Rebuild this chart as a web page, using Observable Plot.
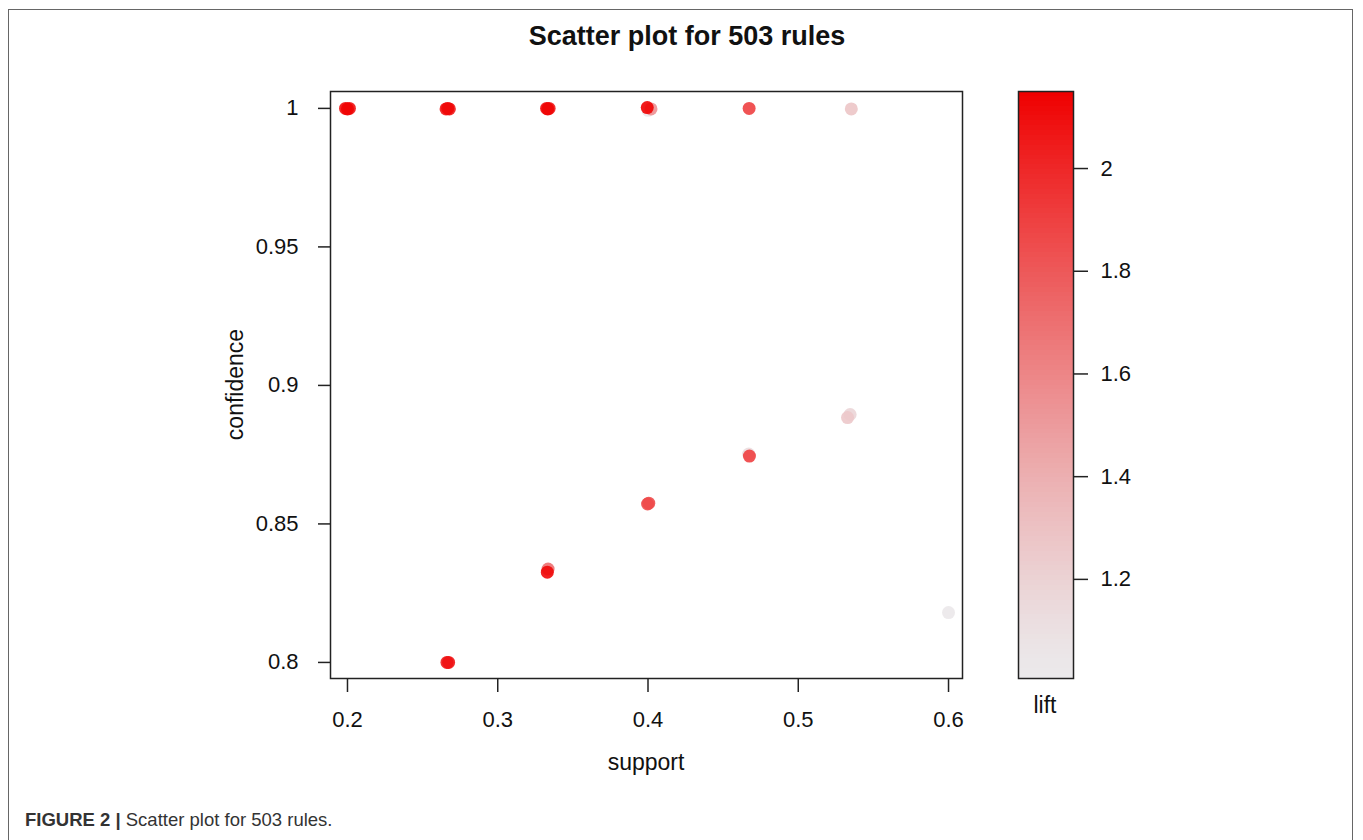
<!DOCTYPE html>
<html>
<head>
<meta charset="utf-8">
<script src="https://cdn.jsdelivr.net/npm/d3@7"></script>
<script src="https://cdn.jsdelivr.net/npm/@observablehq/plot@0.6"></script>
<style>
  html, body { margin: 0; padding: 0; background: #fff; }
  #wrap { position: relative; width: 1363px; height: 840px; overflow: hidden; font-family: "Liberation Sans", Arial, sans-serif; color: #111; }
  #border { position: absolute; left: 8px; top: 9px; width: 1345px; height: 900px; border: 1.5px solid #666; box-sizing: border-box; }
  .lbl { position: absolute; white-space: nowrap; }
  #title { left: 0; width: 1374px; top: 21px; text-align: center; font-weight: bold; font-size: 27px; }
  #xlab { left: 546px; width: 200px; top: 749px; text-align: center; font-size: 23px; }
  #ylab { left: 135px; width: 200px; top: 371px; text-align: center; font-size: 23px; transform: rotate(-90deg); }
  #llab { left: 995px; width: 100px; top: 692px; text-align: center; font-size: 23px; }
  #caption { left: 25px; top: 809px; font-size: 18.5px; color: #333; }
  #main, #bar { position: absolute; top: 0; }
  #main { left: 0; }
  #bar { left: 1000px; }
</style>
</head>
<body>
<div id="wrap">
  <div id="border"></div>
  <div id="main"></div>
  <div id="bar"></div>
  <div class="lbl" id="title">Scatter plot for 503 rules</div>
  <div class="lbl" id="xlab">support</div>
  <div class="lbl" id="ylab">confidence</div>
  <div class="lbl" id="llab">lift</div>
  <div class="lbl" id="caption"><b>FIGURE 2 |</b> Scatter plot for 503 rules.</div>
</div>
<script>
// ---- data ----
const support    = [0.1987, 0.2000, 0.2013, 0.2656, 0.2667, 0.2678, 0.3325, 0.3333, 0.3342,
                    0.4000, 0.4020, 0.3995, 0.4673, 0.5353,
                    0.2662, 0.2673, 0.3335, 0.3330, 0.3997, 0.4005,
                    0.4670, 0.4675, 0.5345, 0.5328, 0.6000];
const confidence = [1.0000, 0.9998, 1.0000, 0.9998, 1.0000, 0.9998, 1.0000, 0.9998, 1.0000,
                    0.9993, 0.9998, 1.0003, 1.0000, 0.9998,
                    0.8000, 0.8000, 0.8337, 0.8326, 0.8572, 0.8575,
                    0.8752, 0.8745, 0.8895, 0.8884, 0.8180];
const lift       = [2.10, 2.14, 2.08, 2.06, 2.12, 2.05, 2.08, 2.13, 2.06,
                    1.04, 1.55, 2.14, 1.90, 1.28,
                    2.04, 2.08, 1.70, 2.12, 1.84, 1.86,
                    1.12, 1.90, 1.18, 1.26, 1.03];
const xTicks = [0.2, 0.3, 0.4, 0.5, 0.6];
const yTicks = [0.8, 0.85, 0.9, 0.95, 1];
const liftTicks = [1.2, 1.4, 1.6, 1.8, 2];
const liftDomain = [1.007, 2.15];

const rules = support.map((s, i) => ({support: s, confidence: confidence[i], lift: lift[i]}));

const lo = "#ebe9eb", hi = "#ef0000";
const interp = t => d3.interpolateRgb(lo, hi)(Math.pow(t, 1.3));
const colorOpts = {type: "linear", domain: liftDomain, interpolate: () => interp};

const style = {fontFamily: "Liberation Sans, Arial, sans-serif", fontSize: "22px", color: "#111", background: "transparent", overflow: "visible"};

const main = Plot.plot({
  width: 1363, height: 840,
  marginLeft: 330, marginRight: 401, marginTop: 91, marginBottom: 162,
  style,
  x: {domain: [0.1887, 0.6093]},
  y: {domain: [0.7942, 1.0061]},
  color: colorOpts,
  marks: [
    Plot.dot(rules, {x: "support", y: "confidence", fill: "lift", r: 6.5, fillOpacity: 0.9, stroke: null, sort: d => d.lift}),
    Plot.frame({stroke: "#222", strokeWidth: 1.5}),
    Plot.axisX({ticks: xTicks, tickSize: 14, tickPadding: 19, fontSize: 22, label: null, tickFormat: d => String(d), strokeWidth: 1.5, stroke: "#222"}),
    Plot.axisY({ticks: yTicks, tickSize: 12, tickPadding: 20, fontSize: 22, label: null, tickFormat: d => String(d), strokeWidth: 1.5, stroke: "#222"})
  ]
});
document.getElementById("main").append(main);

// colour bar (gradient bands for the legend)
const nBands = 120;
const bands = d3.range(nBands).map(i => {
  const a = liftDomain[0] + (liftDomain[1] - liftDomain[0]) * i / nBands;
  const b = liftDomain[0] + (liftDomain[1] - liftDomain[0]) * (i + 1) / nBands;
  return {y1: a, y2: b, v: (a + b) / 2};
});
const bar = Plot.plot({
  width: 200, height: 840,
  marginLeft: 18, marginRight: 127, marginTop: 91, marginBottom: 162,
  style,
  x: {domain: [0, 1], axis: null},
  y: {domain: liftDomain},
  color: colorOpts,
  marks: [
    Plot.rect(bands, {x1: 0, x2: 1, y1: "y1", y2: "y2", fill: "v", inset: 0, shapeRendering: "crispEdges"}),
    Plot.frame({stroke: "#222", strokeWidth: 1.5}),
    Plot.axisY({anchor: "right", ticks: liftTicks, tickSize: 14, tickPadding: 13, fontSize: 22, label: null, tickFormat: d => String(d), strokeWidth: 1.5, stroke: "#222"})
  ]
});
document.getElementById("bar").append(bar);
</script>
</body>
</html>
